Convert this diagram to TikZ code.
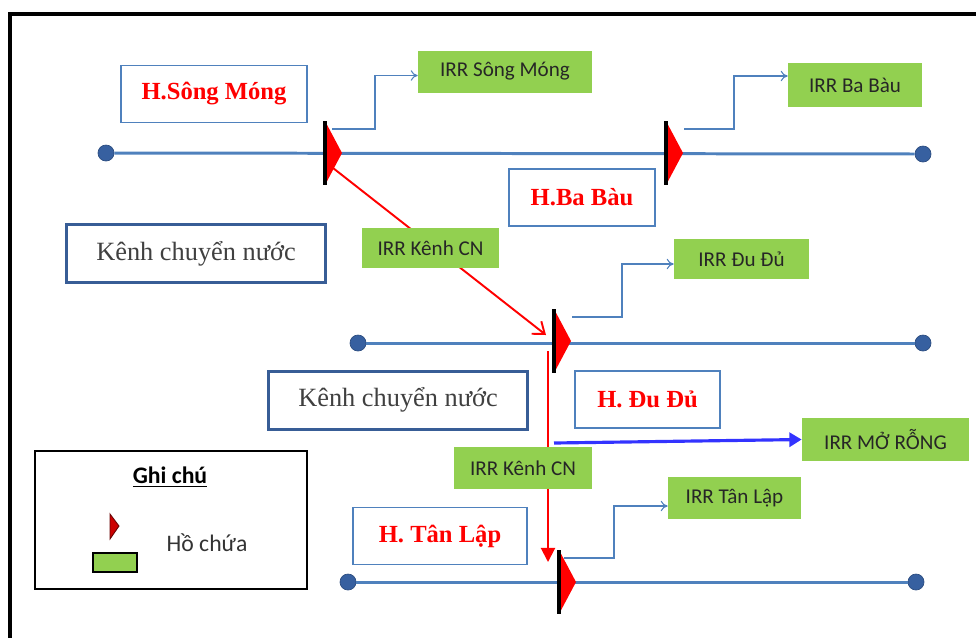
\documentclass[tikz,border=0pt]{standalone}
\usepackage{fontspec}
\setmainfont{Liberation Serif}
\newfontfamily\boxfont{Carlito}
\usetikzlibrary{arrows.meta}
\definecolor{chanblue}{RGB}{79,129,189}
\definecolor{dotblue}{RGB}{55,96,160}
\definecolor{irrgreen}{RGB}{146,208,80}
\definecolor{kenhblue}{RGB}{56,93,150}
\definecolor{arrowblue}{RGB}{51,51,255}

\begin{document}
\begin{tikzpicture}[x=0.02cm,y=-0.02cm,
  chan/.style={chanblue, line width=1.7pt},
  dot/.style={circle, fill=dotblue, draw=dotblue!80!black, inner sep=0pt, minimum size=0.32cm},
  hbox/.style={draw=chanblue, line width=0.8pt, fill=white, text=red, font=\bfseries\fontsize{14}{16}\selectfont, minimum height=1.14cm},
  kenh/.style={draw=kenhblue, line width=1.7pt, fill=white, text=black!75, font=\fontsize{15}{17}\selectfont, minimum height=1.16cm, minimum width=5.2cm},
  irr/.style={fill=irrgreen, font=\boxfont\fontsize{12}{14}\selectfont, text=black!85, minimum height=0.84cm},
  flow/.style={chanblue, line width=0.6pt, -{To[length=4pt,width=6pt]}},
  kenharrow/.style={red, line width=1.1pt, -{Straight Barb[length=6pt,width=9pt]}},
]
\useasboundingbox (0,0) rectangle (976,637);
\clip (0,0) rectangle (976,637);
\draw[line width=1.8pt] (10,14) rectangle (1000,700);

\node[dot] (l1a) at (106,153) {};
\node[dot] (l1b) at (923,154) {};
\node[dot] (l2a) at (358,343) {};
\node[dot] (l2b) at (923,343) {};
\node[dot] (l3a) at (348,582) {};
\node[dot] (l3b) at (916,582) {};
\draw[chan] (l1a) -- (l1b);
\draw[chan] (l2a) -- (l2b);
\draw[chan] (l3a) -- (l3b);

\node[hbox, minimum width=3.72cm] (hsm) at (214,94) {H.Sông Móng};
\node[hbox, minimum width=2.92cm] (hbb) at (582,197.5) {H.Ba Bàu};
\node[hbox, minimum width=2.9cm] (hdd) at (647.5,399.5) {H. Đu Đủ};
\node[hbox, minimum width=3.48cm] (htl) at (440,536) {H. Tân Lập};
\node[kenh] (kcn1) at (196,253.5) {Kênh chuyển nước};
\node[kenh] (kcn2) at (398,400) {Kênh chuyển nước};

\coordinate (r1) at (325,153);
\coordinate (r2) at (666,153);
\coordinate (r3) at (554,341);
\coordinate (r4) at (559,582);
\foreach \r in {r1,r2,r3,r4}{
  \fill[red] (\r) ++(0,-32) -- ++(17,32) -- ++(-17,32) -- cycle;
  \draw[line width=1.8pt] (\r) ++(0,-32) -- ++(0,64);
}

\coordinate (k1s) at (333,168);
\coordinate (k1e) at (546,335);
\coordinate (k2s) at (548,351);
\coordinate (k2e) at (548,562);
\coordinate (m1) at (554,443);
\draw[kenharrow] (k1s) -- (k1e);
\draw[red, line width=1.1pt, -{Triangle[length=8pt,width=8pt]}] (k2s) -- (k2e);

\node[irr, minimum width=3.48cm] (irrsm) at (505,71.5) {IRR Sông Móng};
\node[irr, minimum width=2.68cm, minimum height=0.88cm] (irrbb) at (855,85) {IRR Ba Bàu};
\node[irr, minimum width=2.74cm, minimum height=0.8cm] (irrkcn1) at (430.5,248) {IRR Kênh CN};
\node[irr, minimum width=2.7cm, minimum height=0.8cm] (irrdd) at (741.5,259) {IRR Đu Đủ};
\node[irr, minimum width=3.34cm, minimum height=0.86cm] (irrmr) at (885.5,439.5) {IRR MỞ RỖNG};
\node[irr, minimum width=2.76cm] (irrkcn2) at (523,468) {IRR Kênh CN};
\node[irr, minimum width=2.66cm] (irrtl) at (734.5,498) {IRR Tân Lập};

\coordinate (o1) at (332,129);
\coordinate (o2) at (684,129);
\coordinate (o3) at (572,317);
\coordinate (o4) at (564,558);
\draw[flow] (o1) -- ++(43,0) |- ([yshift=-0.08cm]irrsm.west);
\draw[flow] (o2) -- ++(50,0) |- ([yshift=0.18cm]irrbb.west);
\draw[flow] (o3) -- ++(50,0) |- ([yshift=-0.1cm]irrdd.west);
\draw[flow] (o4) -- ++(50,0) |- ([yshift=-0.16cm]irrtl.west);
\draw[arrowblue, line width=1.8pt, -{Triangle[length=7pt,width=8pt]}] (m1) -- (irrmr.west);

\node[draw, line width=0.9pt, minimum width=5.44cm, minimum height=2.76cm] (legend) at (171,520) {};
\node[font=\boxfont\bfseries\fontsize{13.5}{15}\selectfont] (ghichu) at (170,477) {\underline{Ghi chú}};
\filldraw[fill=red!80!black, draw=red!40!black, line width=0.5pt] (110,514) -- (119,526) -- (110,539) -- cycle;
\filldraw[fill=irrgreen, draw=black, line width=1pt] (93,553) rectangle (137,572);
\node[font=\boxfont\fontsize{13.5}{15}\selectfont, text=black!80] (hochua) at (207,543) {Hồ chứa};
\end{tikzpicture}
\end{document}
